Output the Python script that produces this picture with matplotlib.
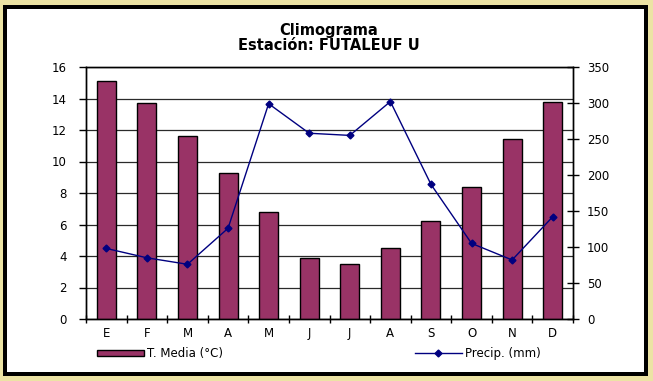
import matplotlib.pyplot as plt
from matplotlib.patches import Rectangle
from matplotlib.lines import Line2D

months = ["E", "F", "M", "A", "M", "J", "J", "A", "S", "O", "N", "D"]
temp = [15.1, 13.7, 11.6, 9.3, 6.8, 3.9, 3.5, 4.5, 6.2, 8.4, 11.4, 13.8]
precip = [98, 85, 76, 126, 299, 258, 255, 302, 187, 105, 82, 142]
left_ticks = [0, 2, 4, 6, 8, 10, 12, 14, 16]
right_ticks = [0, 50, 100, 150, 200, 250, 300, 350]

BAR = "#993366"
LINE = "#000080"
FONT = "DejaVu Sans"

fig = plt.figure(figsize=(6.53, 3.81), dpi=100)
fig.patch.set_facecolor("#ECE3A4")
# frame: black border with white inside
fig.add_artist(Rectangle((3 / 653, 5 / 381), 645 / 653, 371 / 381,
                         transform=fig.transFigure, facecolor="black",
                         edgecolor="none", zorder=0))
fig.add_artist(Rectangle((7 / 653, 9 / 381), 637 / 653, 363 / 381,
                         transform=fig.transFigure, facecolor="white",
                         edgecolor="none", zorder=0))

ax = fig.add_axes([86 / 653, 62 / 381, 487 / 653, 252 / 381])
ax.set_facecolor("none")
x = list(range(len(months)))
bars = ax.bar(x, temp, width=0.47, color=BAR, edgecolor="black",
              linewidth=1, zorder=3, label="T. Media (°C)")
ax.set_xlim(-0.5, len(months) - 0.5)
ax.set_ylim(0, 16)
ax.set_yticks(left_ticks)
ax.set_yticklabels([str(t) for t in left_ticks], fontsize=8.5, family=FONT)
ax.yaxis.grid(True, color="#2a2a2a", linewidth=0.9)
ax.set_axisbelow(True)
ax.set_xticks(x)
ax.set_xticklabels(months, fontsize=8.5, family=FONT)
ax.set_xticks([i - 0.5 for i in range(len(months) + 1)], minor=True)
ax.tick_params(axis="x", which="major", length=0, pad=6)
ax.tick_params(axis="x", which="minor", length=6, direction="inout", width=1)
ax.tick_params(axis="y", length=5, direction="out", width=1, pad=9)
for s in ax.spines.values():
    s.set_linewidth(1)
ax.spines["top"].set_color("#2a2a2a")

ax2 = ax.twinx()
line, = ax2.plot(x, precip, color=LINE, linewidth=1, marker="D",
                 markersize=3.5, zorder=4, label="Precip. (mm)")
ax2.set_ylim(0, 350)
ax2.set_yticks(right_ticks)
ax2.set_yticklabels([str(t) for t in right_ticks], fontsize=8.5, family=FONT)
ax2.tick_params(axis="y", length=8, direction="inout", width=1, pad=6)
for s in ax2.spines.values():
    s.set_linewidth(1)

fig.text(329 / 653, 1 - 30 / 381, "Climograma", ha="center", va="center",
         fontsize=10.5, fontweight="bold", family=FONT)
fig.text(329 / 653, 1 - 45 / 381, "Estación: FUTALEUF U", ha="center",
         va="center", fontsize=10.5, fontweight="bold", family=FONT)

fig.legend(handles=[bars], loc="center left",
           bbox_to_anchor=(86 / 653, 1 - 354 / 381), frameon=False,
           handlelength=4, handleheight=0.45, handletextpad=0.3,
           prop={"family": FONT, "size": 8.5})
fig.legend(handles=[Line2D([], [], color=LINE, linewidth=1, marker="D",
                           markersize=3.5)],
           labels=["Precip. (mm)"], loc="center left",
           bbox_to_anchor=(404 / 653, 1 - 354 / 381), frameon=False,
           handlelength=4, handletextpad=0.3,
           prop={"family": FONT, "size": 8.5})

fig.savefig("out.png", dpi=100, facecolor=fig.get_facecolor())
